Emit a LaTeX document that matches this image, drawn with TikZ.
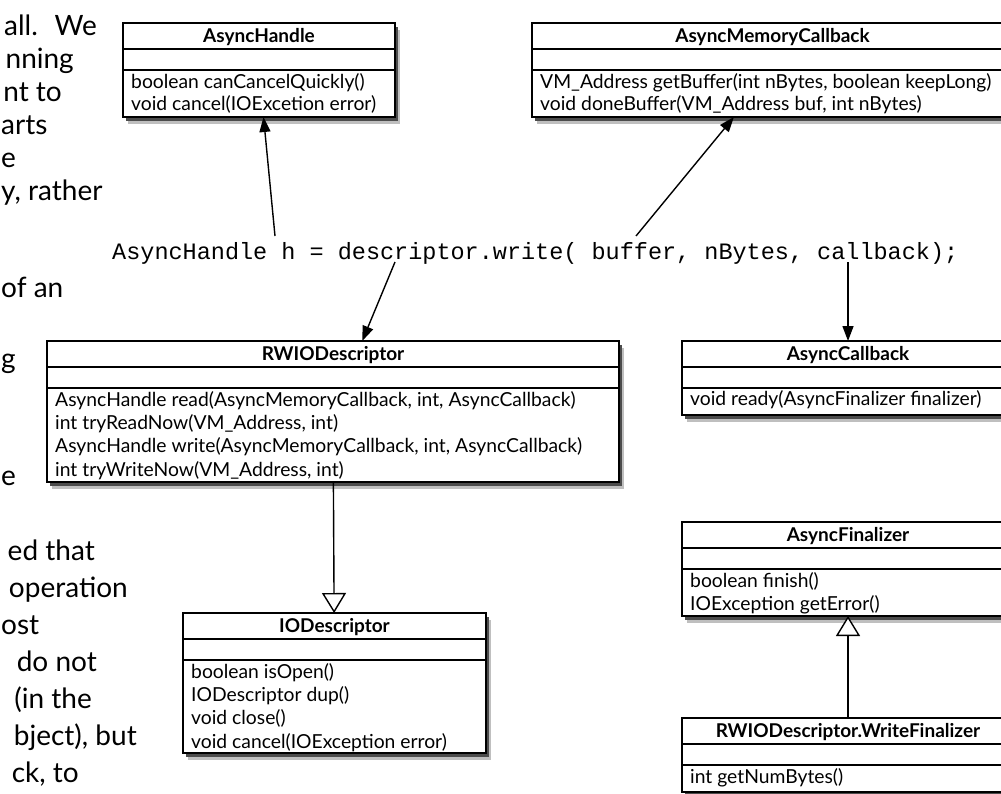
\documentclass[tikz,border=0pt]{standalone}
\usepackage{fontspec}
\setmainfont{Lato}
\newfontfamily\umlfont{Lato}
\newfontfamily\codefont{Liberation Mono}
\usetikzlibrary{arrows.meta,shadows}

\tikzset{
  clsbox/.style={draw=black, line width=1.6pt, fill=white, inner sep=0pt, outer sep=0pt,
    drop shadow={shadow xshift=5pt, shadow yshift=-6.5pt, fill=black!25, opacity=1},
    drop shadow={shadow xshift=3pt, shadow yshift=-4pt, fill=black!70, opacity=1}},
  divline/.style={draw=black, line width=1.4pt},
  titletext/.style={font={\umlfont\bfseries\fontsize{19}{23}\selectfont}, inner sep=0pt},
  mtext/.style={font={\umlfont\fontsize{19.3}{23}\selectfont}, inner sep=0pt},
  codetext/.style={font={\codefont\fontsize{23.5}{26}\selectfont}, inner sep=0pt},
  bgtext/.style={font={\umlfont\fontsize{28}{33}\selectfont}, inner sep=0pt, anchor=base east},
  bgleft/.style={font={\umlfont\fontsize{28}{33}\selectfont}, inner sep=0pt, anchor=base west},
  assoc/.style={line width=1.4pt, -{Triangle[length=15pt,width=11pt]}},
  inherit/.style={line width=1.4pt, -{Triangle[open,length=20pt,width=24pt,fill=white]}}
}

\newcommand\umlbox[6]{%
  \node[clsbox, minimum width=#4pt, minimum height=#5pt, anchor=north west] (#1) at (#2,#3) {};
  \draw[divline] ([yshift=-26pt]#1.north west) -- ([yshift=-26pt]#1.north east);
  \draw[divline] ([yshift=-47pt]#1.north west) -- ([yshift=-47pt]#1.north east);
  \node[titletext, anchor=base] (#1-title) at ([yshift=-19pt]#1.north) {#6};
}
\newcommand\umlrow[4]{%
  \node[mtext, anchor=base west] (#1-#2) at ([xshift=8pt,yshift=-#3pt]#1.north west) {#4};
}

\begin{document}
\begin{tikzpicture}[x=1pt,y=-1pt]
\useasboundingbox (0,0) rectangle (1001,793);
\fill[white] (0,0) rectangle (1001,793);
\clip (0,0) rectangle (1001,793);

% background page text
\node[bgtext] (bg1) at (97,35) {all.~ We};
\node[bgtext] (bg2) at (74,68) {nning};
\node[bgtext] (bg3) at (62,101) {nt to};
\node[bgleft] (bg4) at (1,134) {arts};
\node[bgleft] (bg5) at (1,167) {e};
\node[bgleft] (bg6) at (1,200) {y, rather};
\node[bgleft] (bg7) at (1,297) {of an};
\node[bgleft] (bg8) at (1,368) {g};
\node[bgleft] (bg9) at (1,485) {e};
\node[bgtext] (bg10) at (95,560) {ed that};
\node[bgtext] (bg11) at (128,597) {operation};
\node[bgleft] (bg12) at (1,634) {ost};
\node[bgtext] (bg13) at (97,671) {do not};
\node[bgtext] (bg14) at (92,708) {(in the};
\node[bgtext] (bg15) at (137,745) {bject), but};
\node[bgtext] (bg16) at (79,782) {ck, to};

% classes
\umlbox{ah}{123}{23}{272}{94}{AsyncHandle}
\umlrow{ah}{m1}{65}{boolean canCancelQuickly()}
\umlrow{ah}{m2}{87.5}{void cancel(IOExcetion error)}

\umlbox{amc}{532}{23}{481}{94}{AsyncMemoryCallback}
\umlrow{amc}{m1}{65}{VM\_Address getBuffer(int nBytes, boolean keepLong)}
\umlrow{amc}{m2}{87.5}{void doneBuffer(VM\_Address buf, int nBytes)}

\umlbox{rw}{47}{341}{572}{141}{RWIODescriptor}
\umlrow{rw}{m1}{65}{AsyncHandle read(AsyncMemoryCallback, int, AsyncCallback)}
\umlrow{rw}{m2}{88.3}{int tryReadNow(VM\_Address, int)}
\umlrow{rw}{m3}{111.6}{AsyncHandle write(AsyncMemoryCallback, int, AsyncCallback)}
\umlrow{rw}{m4}{135}{int tryWriteNow(VM\_Address, int)}

\umlbox{ac}{682}{341}{332}{74}{AsyncCallback}
\umlrow{ac}{m1}{64}{void ready(AsyncFinalizer finalizer)}

\umlbox{io}{183}{613}{303}{140}{IODescriptor}
\umlrow{io}{m1}{65}{boolean isOpen()}
\umlrow{io}{m2}{88.3}{IODescriptor dup()}
\umlrow{io}{m3}{111.6}{void close()}
\umlrow{io}{m4}{135}{void cancel(IOException error)}

\umlbox{af}{682}{522}{332}{94}{AsyncFinalizer}
\umlrow{af}{m1}{65}{boolean finish()}
\umlrow{af}{m2}{88}{IOException getError()}

\umlbox{wf}{682}{718}{332}{74}{RWIODescriptor.WriteFinalizer}
\umlrow{wf}{m1}{65}{int getNumBytes()}

% code line
\node[codetext, anchor=base west] (code) at (112,259) {AsyncHandle h = descriptor.write( buffer, nBytes, callback);};
\coordinate (c1) at (275,236);
\coordinate (c2) at (636,236);
\coordinate (c3) at (395,262);
\coordinate (c4) at (848,262);

% connectors
\draw[assoc] (c1) -- (ah);
\draw[assoc] (c2) -- (amc);
\draw[assoc] (c3) -- (rw);
\draw[assoc] (c4) -- (ac);
\draw[inherit] (rw) -- (io);
\draw[inherit] (wf) -- (af);
\end{tikzpicture}
\end{document}
